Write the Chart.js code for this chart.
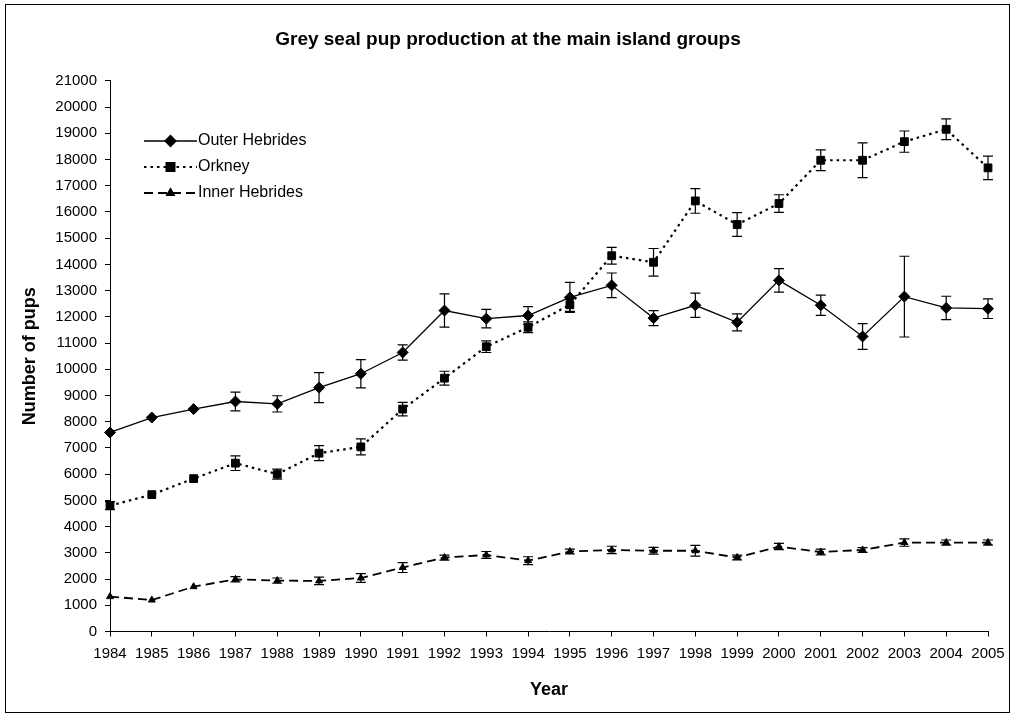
<!DOCTYPE html>
<html>
<head>
<meta charset="utf-8">
<script src="https://cdn.jsdelivr.net/npm/chart.js"></script>
<style>
  body { margin: 0; background: #fff; }
  #wrap { position: relative; width: 1016px; height: 714px; }
</style>
</head>
<body>
<div id="wrap"><canvas id="mycanvas"></canvas></div>
<script>
// data
var years = ['1984', '1985', '1986', '1987', '1988', '1989', '1990', '1991', '1992', '1993', '1994',
    '1995', '1996', '1997', '1998', '1999', '2000', '2001', '2002', '2003', '2004', '2005'];

var outerHebrides = [7590, 8160, 8480, 8770, 8680, 9300, 9830, 10640, 12240, 11930, 12050,
    12740, 13200, 11950, 12440, 11790, 13390, 12440, 11250, 12770, 12340, 12310];
var outerErr = [0, 0, 0, 360, 310, 575, 540, 290, 635, 350, 340,
    570, 470, 285, 465, 325, 450, 385, 490, 1540, 445, 375];

var orkney = [4800, 5220, 5830, 6420, 6000, 6800, 7040, 8480, 9660, 10860, 11600,
    12460, 14330, 14080, 16420, 15520, 16320, 17970, 17970, 18680, 19150, 17680];
var orkneyErr = [150, 0, 0, 280, 190, 285, 305, 260, 265, 220, 205,
    255, 320, 525, 470, 455, 335, 395, 665, 405, 395, 445];

var innerHebrides = [1330, 1200, 1710, 1990, 1940, 1930, 2040, 2440, 2820, 2920, 2700,
    3050, 3110, 3080, 3080, 2820, 3240, 3030, 3110, 3390, 3390, 3390];
var innerErr = [0, 0, 0, 100, 100, 145, 165, 190, 95, 130, 150,
    95, 140, 130, 205, 90, 120, 110, 90, 140, 100, 100];

var fontName = "'Liberation Sans', Arial, sans-serif";

// outer frame
var framePlugin = {
    id: 'frame',
    beforeDraw: function(chart) {
        var ctx = chart.ctx;
        ctx.save();
        ctx.fillStyle = '#fff';
        ctx.fillRect(0, 0, chart.width, chart.height);
        ctx.strokeStyle = '#000';
        ctx.lineWidth = 1;
        ctx.strokeRect(5.5, 4.5, 1004, 708);
        ctx.restore();
    }
};

// vertical error bars with caps
var errorBarPlugin = {
    id: 'errorBars',
    afterDatasetsDraw: function(chart) {
        var ctx = chart.ctx;
        var yScale = chart.scales.y;
        ctx.save();
        ctx.strokeStyle = '#000';
        ctx.lineWidth = 1.2;
        ctx.setLineDash([]);
        chart.data.datasets.forEach(function(ds, di) {
            var meta = chart.getDatasetMeta(di);
            ds.errors.forEach(function(e, i) {
                if (!e) return;
                var x = meta.data[i].x;
                var yHi = yScale.getPixelForValue(ds.data[i] + e);
                var yLo = yScale.getPixelForValue(ds.data[i] - e);
                ctx.beginPath();
                ctx.moveTo(x, yHi);
                ctx.lineTo(x, yLo);
                ctx.moveTo(x - 5, yHi);
                ctx.lineTo(x + 5, yHi);
                ctx.moveTo(x - 5, yLo);
                ctx.lineTo(x + 5, yLo);
                ctx.stroke();
            });
        });
        ctx.restore();
    }
};

// legend inside the plot, line + marker samples
var legendPlugin = {
    id: 'boxLegend',
    afterDraw: function(chart) {
        var ctx = chart.ctx;
        var x0 = 144, x1 = 197, y0 = 141, gap = 26;
        ctx.save();
        chart.data.datasets.forEach(function(ds, i) {
            var y = y0 + i * gap;
            ctx.strokeStyle = '#000';
            ctx.lineWidth = ds.borderWidth;
            ctx.setLineDash(ds.borderDash || []);
            ctx.beginPath();
            ctx.moveTo(x0, y);
            ctx.lineTo(x1, y);
            ctx.stroke();
            ctx.setLineDash([]);
            Chart.helpers.drawPoint(ctx, {
                pointStyle: ds.pointStyle,
                radius: ds.pointRadius,
                borderWidth: 1,
                rotation: 0
            }, (x0 + x1) / 2, y);
            ctx.fillStyle = '#000';
            ctx.font = '16px ' + fontName;
            ctx.textBaseline = 'middle';
            ctx.textAlign = 'left';
            ctx.fillText(ds.label, x1 + 1, y);
        });
        ctx.restore();
    }
};

var ctx1 = document.getElementById('mycanvas');

var data1 = {
    labels: years,
    datasets: [
        {
            label: 'Outer Hebrides',
            data: outerHebrides,
            errors: outerErr,
            borderColor: '#000',
            backgroundColor: '#000',
            borderWidth: 1.3,
            pointStyle: 'rectRot',
            pointRadius: 5.5,
            pointBorderWidth: 1,
            tension: 0
        },
        {
            label: 'Orkney',
            data: orkney,
            errors: orkneyErr,
            borderColor: '#000',
            backgroundColor: '#000',
            borderWidth: 2.2,
            borderDash: [2.5, 4],
            pointStyle: 'rect',
            pointRadius: 5.5,
            pointBorderWidth: 1,
            tension: 0
        },
        {
            label: 'Inner Hebrides',
            data: innerHebrides,
            errors: innerErr,
            borderColor: '#000',
            backgroundColor: '#000',
            borderWidth: 1.8,
            borderDash: [9, 5],
            pointStyle: 'triangle',
            pointRadius: 4,
            pointBorderWidth: 1,
            tension: 0
        }
    ]
};

var options = {
    responsive: true,
    maintainAspectRatio: false,
    animation: false,
    layout: { padding: 0 },
    plugins: {
        legend: { display: false },
        tooltip: { enabled: false },
        title: {
            display: true,
            text: 'Grey seal pup production at the main island groups',
            color: '#000',
            font: { family: fontName, size: 19, weight: 'bold' },
            padding: { top: 28, bottom: 30 }
        }
    },
    scales: {
        x: {
            type: 'category',
            offset: false,
            grid: { drawOnChartArea: false, drawTicks: true, tickLength: 5, color: '#000' },
            border: { color: '#000', width: 1 },
            ticks: { color: '#000', font: { family: fontName, size: 15 }, autoSkip: false, maxRotation: 0, padding: 8 },
            title: {
                display: true,
                text: 'Year',
                color: '#000',
                font: { family: fontName, size: 18, weight: 'bold' },
                padding: { top: 0, bottom: 13 }
            },
            afterFit: function(scale) { scale.height = 82.5; }
        },
        y: {
            min: 0,
            max: 21000,
            grid: { drawOnChartArea: false, drawTicks: true, tickLength: 5, color: '#000' },
            border: { color: '#000', width: 1 },
            ticks: {
                color: '#000',
                font: { family: fontName, size: 15 },
                stepSize: 1000,
                autoSkip: false,
                padding: 8,
                callback: function(value) { return String(value); }
            },
            title: {
                display: true,
                text: 'Number of pups',
                color: '#000',
                font: { family: fontName, size: 18, weight: 'bold' },
                padding: { top: 19, bottom: 0 }
            },
            afterFit: function(scale) { scale.width = 110; }
        },
        // empty right-hand spacer so the title stays centred on the page
        spacer: {
            type: 'linear',
            position: 'right',
            grid: { display: false },
            border: { display: false },
            ticks: { display: false },
            afterFit: function(scale) { scale.width = 28; }
        }
    }
};

var chart1 = new Chart(ctx1, {
    type: 'line',
    data: data1,
    options: options,
    plugins: [framePlugin, errorBarPlugin, legendPlugin]
});
</script>
</body>
</html>
